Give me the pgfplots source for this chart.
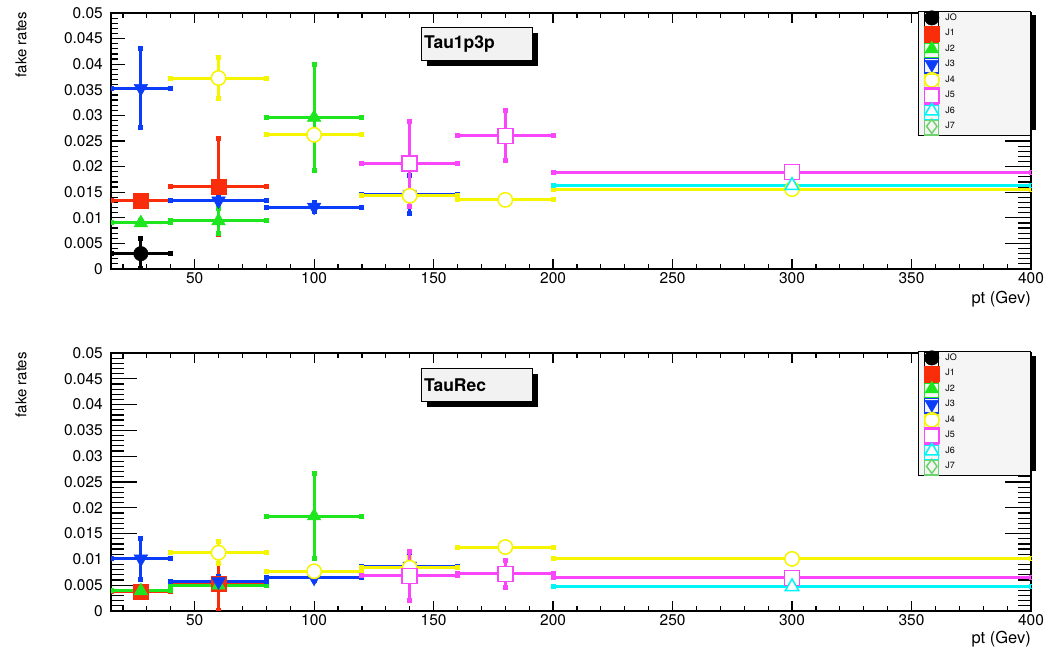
\documentclass[border=0pt]{standalone}
\usepackage{fontspec}
\setmainfont{TeX Gyre Heros}
\usepackage{pgfplots}
\pgfplotsset{compat=1.18}
\usetikzlibrary{shadows}

\definecolor{cJ1}{RGB}{250,45,10}
\definecolor{cJ2}{RGB}{30,230,30}
\definecolor{cJ3}{RGB}{10,60,250}
\definecolor{cJ4}{RGB}{245,245,0}
\definecolor{cJ5}{RGB}{250,70,250}
\definecolor{cJ6}{RGB}{0,245,245}
\definecolor{cJ7}{RGB}{110,210,110}

\pgfplotsset{
  rootframe/.style={scale only axis, width=920pt,
    xmin=15, xmax=400, ymin=0, ymax=0.05,
    axis line style={line width=1.4pt},
    tick style={line width=1.2pt, black},
    tick align=inside,
    scaled y ticks=false,
    /pgf/number format/assume math mode=true,
    every tick label/.append style={font=\fontsize{15.5}{18}\selectfont, inner sep=0pt},
    xticklabel style={yshift=-3pt},
    yticklabel style={xshift=-8pt}},
  yframe/.style={rootframe, hide x axis,
    ytick={0,0.005,0.01,0.015,0.02,0.025,0.03,0.035,0.04,0.045,0.05},
    minor y tick num=4},
  mainframe/.style={rootframe, ytick=\empty,
    xtick={50,100,...,400}, minor xtick={20,30,...,390},
    major tick length=10pt, minor tick length=5pt,
    legend cell align=left,
    legend style={at={(1,1)}, anchor=north east, yshift=2pt,
      fill=black!4, draw=black, line width=1.2pt,
      inner xsep=6pt, inner ysep=0pt, row sep=0pt, column sep=6pt,
      font=\fontsize{9}{10}\selectfont,
      nodes={inner sep=0pt, text width=79pt}}},
  ebar/.style={only marks,
    error bars/x dir=both, error bars/x explicit,
    error bars/y dir=both, error bars/y explicit,
    error bars/error bar style={line width=3pt},
    error bars/error mark=square*,
    error bars/error mark options={mark size=2pt, line width=0pt, rotate=0},
    legend image code/.code={\draw[##1,overlay] plot coordinates {(0pt,0pt)};
      \path (-7pt,-8.6pt) rectangle (7pt,5.7pt);}},
  sJ0/.style={ebar, black, mark=*, mark size=7.2pt, mark options={line width=0.5pt}},
  sJ1/.style={ebar, cJ1, mark=square*, mark size=7.5pt, mark options={line width=0.5pt}},
  sJ2/.style={ebar, cJ2, mark=triangle*, mark size=7.8pt, mark options={line width=0.5pt}},
  sJ3/.style={ebar, cJ3, mark=triangle*, mark size=7.8pt, mark options={line width=0.5pt, rotate=180}},
  sJ4/.style={ebar, cJ4, mark=*, mark size=7.2pt, mark options={line width=1.5pt, fill=white}},
  sJ5/.style={ebar, cJ5, mark=square*, mark size=7.5pt, mark options={line width=1.5pt, fill=white}},
  sJ6/.style={ebar, cJ6, mark=triangle*, mark size=7.8pt, mark options={line width=1.5pt, fill=white}},
  sJ7/.style={ebar, cJ7, mark=diamond*, mark size=7pt, mark options={line width=1.5pt, fill=black!4}},
}

\newcommand{\titlebox}[3]{%
  \node[draw=black, line width=1.3pt, fill=black!5,
    drop shadow={shadow xshift=5pt, shadow yshift=-5pt, fill=black, opacity=1},
    anchor=north west, minimum width=111pt, minimum height=33pt,
    inner sep=0pt, text width=106pt, align=left,
    font=\fontsize{17.5}{20}\selectfont\bfseries] at (#1,#2) {#3};}

\begin{document}
\begin{tikzpicture}[x=1pt,y=1pt]
\useasboundingbox (0,0) rectangle (1050,647);

% ---------------- top panel: Tau1p3p ----------------
\begin{axis}[yframe, at={(111pt,378pt)}, anchor=south west, height=256pt,
  ytick pos=left, major tick length=14pt, minor tick length=7pt,
  yticklabels={0,0.005,0.01,0.015,0.02,0.025,0.03,0.035,0.04,0.045,0.05}]
\end{axis}
\begin{axis}[yframe, at={(111pt,378pt)}, anchor=south west, height=256pt,
  ytick pos=right, yticklabels={}, major tick length=26pt, minor tick length=13pt]
\end{axis}
% legend shadow
\fill[black] (925,517) rectangle (1036,632);

\begin{axis}[mainframe, at={(111pt,378pt)}, anchor=south west, height=256pt]
\addplot[sJ0] table[x=x, y=y, x error=ex, y error=ey] {
x y ex ey
27.5 0.0030 12.5 0.0030
};
\addlegendentry{JO}
\addplot[sJ1] table[x=x, y=y, x error=ex, y error=ey] {
x y ex ey
27.5 0.0133 12.5 0.0005
60 0.0161 20 0.0093
};
\addlegendentry{J1}
\addplot[sJ2] table[x=x, y=y, x error=ex, y error=ey] {
x y ex ey
27.5 0.0090 12.5 0.0004
60 0.0094 20 0.0025
100 0.0296 20 0.0104
};
\addlegendentry{J2}
\addplot[sJ3] table[x=x, y=y, x error=ex, y error=ey] {
x y ex ey
27.5 0.0353 12.5 0.0077
60 0.0133 20 0.0006
100 0.0121 20 0.0008
140 0.0145 20 0.0037
};
\addlegendentry{J3}
\addplot[sJ4] table[x=x, y=y, x error=ex, y error=ey] {
x y ex ey
60 0.0373 20 0.0040
100 0.0262 20 0.0010
140 0.0143 20 0.0008
180 0.0135 20 0.0008
300 0.0156 100 0.0006
};
\addlegendentry{J4}
\addplot[sJ5] table[x=x, y=y, x error=ex, y error=ey] {
x y ex ey
140 0.0206 20 0.0083
180 0.0260 20 0.0049
300 0.0189 100 0.0007
};
\addlegendentry{J5}
\addplot[sJ6] table[x=x, y=y, x error=ex, y error=ey] {
x y ex ey
300 0.0163 100 0.0016
};
\addlegendentry{J6}
\addlegendimage{sJ7}
\addlegendentry{J7}
\end{axis}

\titlebox{421}{620}{Tau1p3p}
\node[rotate=90, anchor=east, inner sep=0pt, font=\fontsize{15}{18}\selectfont] at (21,635) {fake rates};
\node[anchor=base east, inner sep=0pt, font=\fontsize{16.5}{19}\selectfont] at (1031,343) {pt (Gev)};

% ---------------- bottom panel: TauRec ----------------
\begin{axis}[yframe, at={(111pt,36pt)}, anchor=south west, height=258pt,
  ytick pos=both, major tick length=26pt, minor tick length=13pt,
  yticklabels={0,0.005,0.01,0.015,0.02,0.025,0.03,0.035,0.04,0.045,0.05}]
\end{axis}
% legend shadow
\fill[black] (925,176) rectangle (1036,291);

\begin{axis}[mainframe, at={(111pt,36pt)}, anchor=south west, height=258pt]
\addlegendimage{sJ0}
\addlegendentry{JO}
\addplot[sJ1] table[x=x, y=y, x error=ex, y error=ey] {
x y ex ey
27.5 0.0037 12.5 0.0004
60 0.0052 20 0.0052
};
\addlegendentry{J1}
\addplot[sJ2] table[x=x, y=y, x error=ex, y error=ey] {
x y ex ey
27.5 0.0039 12.5 0.0005
60 0.0050 20 0.0008
100 0.0184 20 0.0082
};
\addlegendentry{J2}
\addplot[sJ3] table[x=x, y=y, x error=ex, y error=ey] {
x y ex ey
27.5 0.0101 12.5 0.0040
60 0.0057 20 0.0010
100 0.0064 20 0.0005
140 0.0087 20 0.0025
};
\addlegendentry{J3}
\addplot[sJ4] table[x=x, y=y, x error=ex, y error=ey] {
x y ex ey
60 0.0113 20 0.0021
100 0.0077 20 0.0006
140 0.0084 20 0.0020
180 0.0124 20 0.0006
300 0.0101 100 0.0004
};
\addlegendentry{J4}
\addplot[sJ5] table[x=x, y=y, x error=ex, y error=ey] {
x y ex ey
140 0.0068 20 0.0047
180 0.0072 20 0.0026
300 0.0064 100 0.0005
};
\addlegendentry{J5}
\addplot[sJ6] table[x=x, y=y, x error=ex, y error=ey] {
x y ex ey
300 0.0047 100 0.0004
};
\addlegendentry{J6}
\addlegendimage{sJ7}
\addlegendentry{J7}
\end{axis}

\titlebox{421}{279}{TauRec}
\node[rotate=90, anchor=east, inner sep=0pt, font=\fontsize{15}{18}\selectfont] at (21,295) {fake rates};
\node[anchor=base east, inner sep=0pt, font=\fontsize{16.5}{19}\selectfont] at (1031,3.5) {pt (Gev)};
\end{tikzpicture}
\end{document}
